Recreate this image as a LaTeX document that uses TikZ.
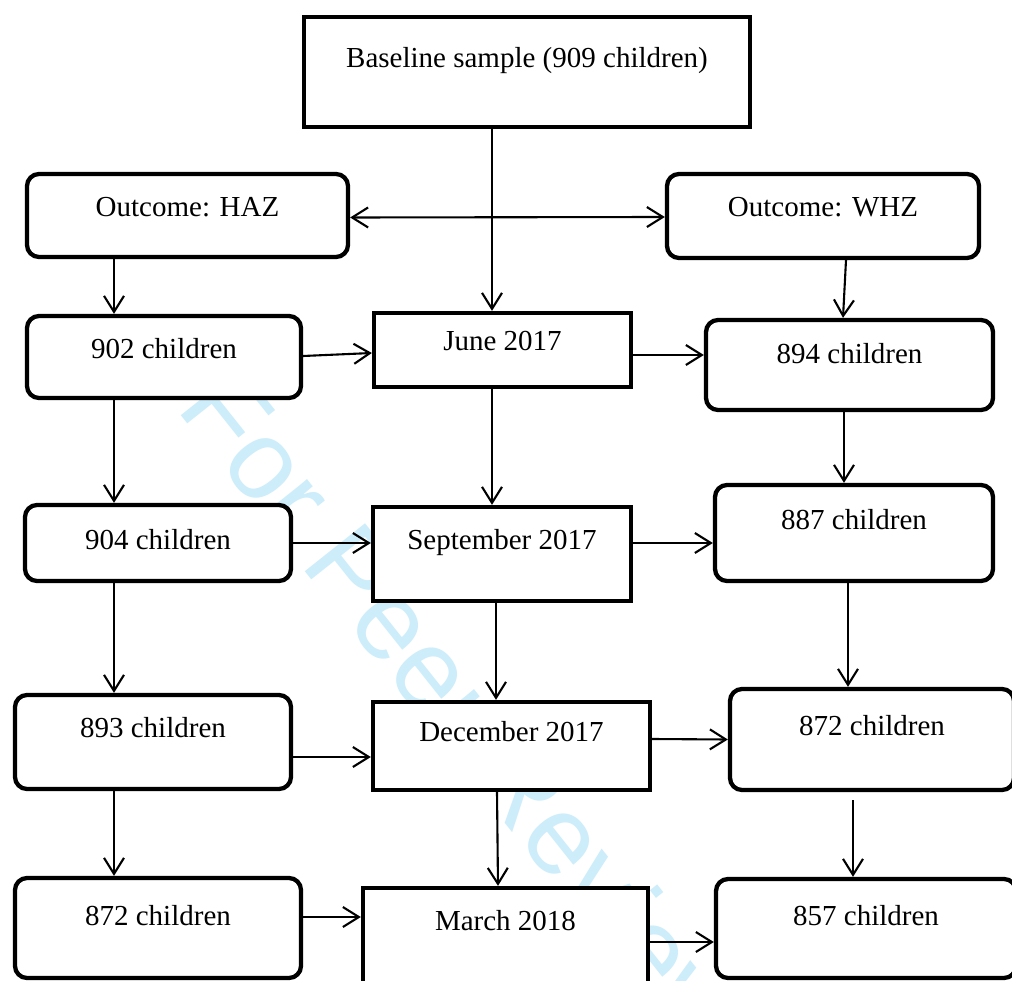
\documentclass[tikz,border=0pt]{standalone}
\usepackage{fontspec}
\setmainfont{Liberation Serif}
\newfontfamily\wmfont{Liberation Sans}
\usetikzlibrary{arrows.meta}
\definecolor{wmblue}{RGB}{205,237,251}
\tikzset{
  box/.style={draw, line width=4.3pt, fill=white, inner sep=0pt,
    text height=20pt, font=\fontsize{29}{34}\selectfont},
  sharpbox/.style={box},
  roundbox/.style={box, rounded corners=12pt},
  arr/.style={line width=2.1pt, -{Straight Barb[length=16pt,width=20pt]}},
  arrboth/.style={line width=2.1pt,
    {Straight Barb[length=16pt,width=20pt]}-{Straight Barb[length=16pt,width=20pt]}},
  watermark/.style={text=wmblue, font=\wmfont\fontsize{112}{112}\selectfont,
    rotate=-51.5, anchor=base, inner sep=0pt}
}
\begin{document}
\begin{tikzpicture}[x=1pt,y=-1pt]
\useasboundingbox (0,0) rectangle (1012,981);
\clip (0,0) rectangle (1012,981);
\fill[white] (0,0) rectangle (1012,981);

% background stamp
\node[watermark] (wm) at (435,735) {For Peer Review};

% column positions of the vertical connectors
\coordinate (cL) at (114,0);
\coordinate (cM1) at (492,0);
\coordinate (cM2) at (496,0);
\coordinate (cR1) at (844,0);
\coordinate (cR2) at (848,0);

% boxes
\node[sharpbox, minimum width=446pt, minimum height=110pt, text depth=28pt] (base) at (527,72) {Baseline sample (909 children)};
\node[roundbox, minimum width=321pt, minimum height=83pt, text depth=17pt] (haz) at (187.5,215.5) {Outcome: HAZ};
\node[roundbox, minimum width=312pt, minimum height=84pt, text depth=18pt] (whz) at (823,216) {Outcome: WHZ};
\node[roundbox, minimum width=274pt, minimum height=82pt, text depth=16pt] (n902) at (164,357) {902 children};
\node[sharpbox, minimum width=257pt, minimum height=74pt, text depth=18pt] (june) at (502.5,350) {June 2017};
\node[roundbox, minimum width=287pt, minimum height=90pt, text depth=22pt] (n894) at (849.5,365) {894 children};
\node[roundbox, minimum width=266pt, minimum height=76pt, text depth=8pt] (n904) at (158,543) {904 children};
\node[sharpbox, minimum width=258pt, minimum height=94pt, text depth=30pt] (sep) at (502,554) {September 2017};
\node[roundbox, minimum width=278pt, minimum height=96pt, text depth=28pt] (n887) at (854,533) {887 children};
\node[roundbox, minimum width=276pt, minimum height=94pt, text depth=30pt] (n893) at (153,742) {893 children};
\node[sharpbox, minimum width=277pt, minimum height=88pt, text depth=30pt] (dec) at (511.5,746) {December 2017};
\node[roundbox, minimum width=284pt, minimum height=101pt, text depth=29pt] (n872r) at (872,739.5) {872 children};
\node[roundbox, minimum width=286pt, minimum height=100pt, text depth=26pt] (n872l) at (158,928) {872 children};
\node[sharpbox, minimum width=285pt, minimum height=97pt, text depth=33pt] (march) at (505.5,936.5) {March 2018};
\node[roundbox, minimum width=300pt, minimum height=99pt, text depth=27pt] (n857) at (866,928.5) {857 children};

% connectors
\draw[arr] (base.south -| cM1) -- (june.north -| cM1);
\draw[arrboth] ([yshift=-2pt]haz.east) -- ([yshift=-1pt]whz.west);
\draw[arr] (haz.south -| cL) -- (n902.north -| cL);
\draw[arr] ([xshift=23pt]whz.south) -- ([xshift=-6.5pt]n894.north);
\draw[arr] ([yshift=1pt]n902.east) -- ([yshift=-3pt]june.west);
\draw[arr] ([yshift=-5pt]june.east) -- ([yshift=10pt]n894.west);
\draw[arr] (n902.south -| cL) -- (n904.north -| cL);
\draw[arr] (june.south -| cM1) -- (sep.north -| cM1);
\draw[arr] (n894.south -| cR1) -- (n887.north -| cR1);
\draw[arr] (n904.east) -- ([yshift=11pt]sep.west);
\draw[arr] ([yshift=11pt]sep.east) -- ([yshift=-10pt]n887.west);
\draw[arr] (n904.south -| cL) -- (n893.north -| cL);
\draw[arr] (sep.south -| cM2) -- (dec.north -| cM2);
\draw[arr] (n887.south -| cR2) -- (n872r.north -| cR2);
\draw[arr] ([yshift=-15pt]n893.east) -- ([yshift=-11pt]dec.west);
\draw[arr] ([yshift=7pt]dec.east) -- (n872r.west);
\draw[arr] (n893.south -| cL) -- (n872l.north -| cL);
\draw[arr] ([xshift=-14.5pt]dec.south) -- ([xshift=-7.5pt]march.north);
\draw[arr] ([xshift=-19pt,yshift=-8pt]n872r.south) -- ([xshift=-13pt]n857.north);
\draw[arr] ([yshift=11pt]n872l.east) -- ([yshift=19.5pt]march.west);
\draw[arr] ([yshift=-5.5pt]march.east) -- ([yshift=-13.5pt]n857.west);
\end{tikzpicture}
\end{document}
